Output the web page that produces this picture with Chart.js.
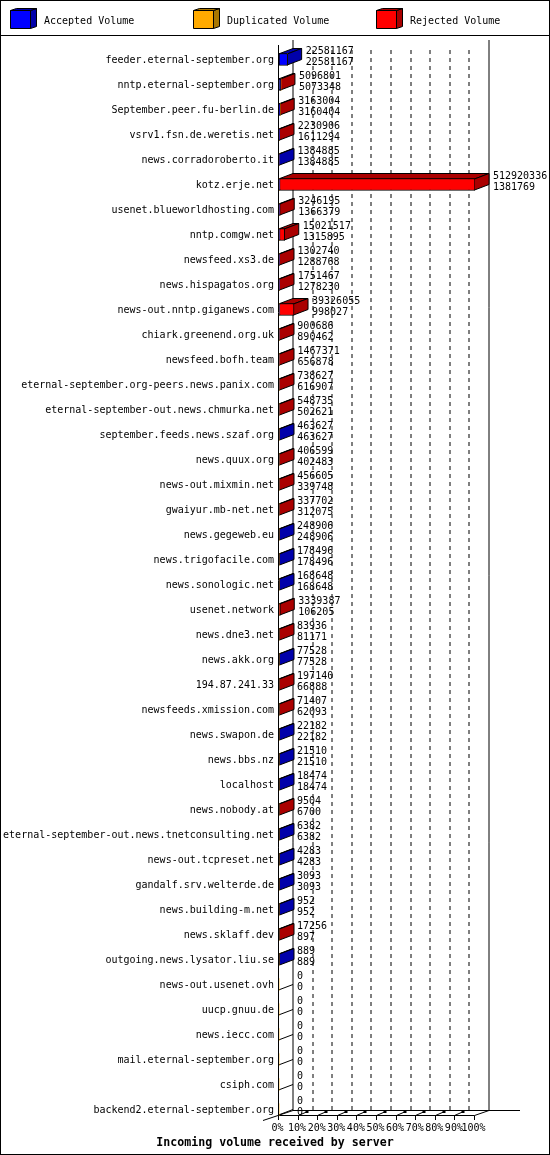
<!DOCTYPE html>
<html>
<head>
<meta charset="utf-8">
<title>Incoming volume received by server</title>
<script src="https://cdn.jsdelivr.net/npm/chart.js@4"></script>
<style>
  html, body { margin: 0; padding: 0; background: #fff; }
  canvas { display: block; }
</style>
</head>
<body>
<canvas id="chart" width="550" height="1155"></canvas>
<script>
// Servers, top to bottom.
const servers = [
  'feeder.eternal-september.org', 'nntp.eternal-september.org', 'September.peer.fu-berlin.de',
  'vsrv1.fsn.de.weretis.net', 'news.corradoroberto.it', 'kotz.erje.net',
  'usenet.blueworldhosting.com', 'nntp.comgw.net', 'newsfeed.xs3.de',
  'news.hispagatos.org', 'news-out.nntp.giganews.com', 'chiark.greenend.org.uk',
  'newsfeed.bofh.team', 'eternal-september.org-peers.news.panix.com',
  'eternal-september-out.news.chmurka.net', 'september.feeds.news.szaf.org', 'news.quux.org',
  'news-out.mixmin.net', 'gwaiyur.mb-net.net', 'news.gegeweb.eu',
  'news.trigofacile.com', 'news.sonologic.net', 'usenet.network',
  'news.dne3.net', 'news.akk.org', '194.87.241.33',
  'newsfeeds.xmission.com', 'news.swapon.de', 'news.bbs.nz',
  'localhost', 'news.nobody.at', 'eternal-september-out.news.tnetconsulting.net',
  'news-out.tcpreset.net', 'gandalf.srv.welterde.de', 'news.building-m.net',
  'news.sklaff.dev', 'outgoing.news.lysator.liu.se', 'news-out.usenet.ovh',
  'uucp.gnuu.de', 'news.iecc.com', 'mail.eternal-september.org',
  'csiph.com', 'backend2.eternal-september.org'
];
// Upper number beside each bar.
const offered = [
  22581167, 5096801, 3163004, 2230906, 1384885, 512920336,
  3246195, 15021517, 1302740, 1751467, 39326055, 900686,
  1467371, 738627, 548735, 463627, 406599, 456605,
  337702, 248906, 178496, 168648, 3339387, 83936,
  77528, 197140, 71407, 22182, 21510, 18474,
  9504, 6382, 4283, 3093, 952, 17256,
  889, 0, 0, 0, 0, 0, 0
];
// Lower number beside each bar.
const accepted = [
  22581167, 5073348, 3160404, 1611294, 1384885, 1381769,
  1366379, 1315895, 1288768, 1278230, 998027, 890462,
  656878, 616907, 502621, 463627, 402483, 339748,
  312075, 248906, 178496, 168648, 106205, 81171,
  77528, 66888, 62093, 22182, 21510, 18474,
  6700, 6382, 4283, 3093, 952, 897,
  889, 0, 0, 0, 0, 0, 0
];
const duplicated = servers.map(() => 0);
const rejected = offered.map((v, i) => v - accepted[i]);
const xTickLabels = ['0%', '10%', '20%', '30%', '40%', '50%', '60%', '70%', '80%', '90%', '100%'];

const MONO = '"DejaVu Sans Mono", monospace';
const DEPTH_X = 14.5, DEPTH_Y = 5.5, BAR_H = 11;

function line(ctx, pts, dash) {
  ctx.save();
  ctx.strokeStyle = '#000';
  ctx.lineWidth = 1;
  ctx.setLineDash(dash || []);
  ctx.beginPath();
  pts.forEach((p, i) => i ? ctx.lineTo(p[0], p[1]) : ctx.moveTo(p[0], p[1]));
  ctx.stroke();
  ctx.restore();
}

function poly(ctx, pts, fill) {
  ctx.fillStyle = fill;
  ctx.strokeStyle = '#000';
  ctx.lineWidth = 1;
  ctx.beginPath();
  pts.forEach((p, i) => i ? ctx.lineTo(p[0], p[1]) : ctx.moveTo(p[0], p[1]));
  ctx.closePath();
  ctx.fill();
  ctx.stroke();
}

// 枠, 凡例, 3D の壁と床.
const framePlugin = {
  id: 'frame',
  beforeDraw(chart) {
    const { ctx, scales: { x } } = chart;
    ctx.save();
    ctx.fillStyle = '#fff';
    ctx.fillRect(0, 0, 550, 1155);
    ctx.strokeStyle = '#000';
    ctx.lineWidth = 1;
    ctx.strokeRect(0.5, 0.5, 549, 1154);
    line(ctx, [[0, 35.5], [550, 35.5]]);

    // legend
    chart.data.datasets.forEach((ds, i) => {
      const lx = 10.5 + 183 * i;
      poly(ctx, [[lx + 20, 10.5], [lx + 26, 8.5], [lx + 26, 26.5], [lx + 20, 28.5]], ds.sideColor);
      poly(ctx, [[lx, 10.5], [lx + 6, 8.5], [lx + 26, 8.5], [lx + 20, 10.5]], ds.sideColor);
      poly(ctx, [[lx, 10.5], [lx + 20, 10.5], [lx + 20, 28.5], [lx, 28.5]], ds.backgroundColor);
      ctx.fillStyle = '#000';
      ctx.font = '10px ' + MONO;
      ctx.textAlign = 'left';
      ctx.textBaseline = 'middle';
      ctx.fillText(ds.label, lx + 33.5, 21);
    });

    const floorFront = 1115.5, floorBack = 1110.5, x0 = Math.floor(x.left) - 0.5;
    const x100 = Math.floor(x.right) - 0.5;

    // walls
    line(ctx, [[x0, 45], [x0, floorFront]]);
    line(ctx, [[x0 + DEPTH_X, 40], [x0 + DEPTH_X, floorBack]]);
    x.ticks.forEach((t, i) => {
      if (i === 0) return;
      const px = Math.round(x.getPixelForTick(i)) - 0.5 + DEPTH_X;
      if (i === x.ticks.length - 1) line(ctx, [[px, 40], [px, floorBack]]);
      else line(ctx, [[px, 50], [px, floorBack]], [4, 4]);
    });

    // floor
    line(ctx, [[263, 1120.5], [x0 + DEPTH_X, floorBack]]);
    line(ctx, [[x0, floorFront], [x100, floorFront], [x100 + DEPTH_X, floorBack]]);
    line(ctx, [[x0 + DEPTH_X, floorBack], [520, floorBack]]);
    x.ticks.forEach((t, i) => {
      const px = Math.round(x.getPixelForTick(i)) - 0.5;
      line(ctx, [[px, floorFront], [px, 1120]]);
      if (i > 0 && i < x.ticks.length - 1) {
        line(ctx, [[px, floorFront], [px + 8, 1112]]);
        ctx.fillStyle = '#000';
        ctx.fillRect(px + 7, 1111, 3, 2);
      }
    });
    ctx.restore();
  },
  // 棒の上面と側面.
  beforeDatasetsDraw(chart) {
    const { ctx, scales: { x, y } } = chart;
    ctx.save();
    servers.forEach((name, i) => {
      const cy = Math.round(y.getPixelForValue(i) - 0.5) + 0.5;
      const top = cy - BAR_H / 2, bot = cy + BAR_H / 2;
      const x0 = Math.floor(x.left) - 0.5;
      if (offered[i] === 0) {
        line(ctx, [[x0, bot], [x0 + DEPTH_X, bot - DEPTH_Y]]);
        return;
      }
      const xEnd = Math.max(x.getPixelForValue(offered[i]) - 0.5, x0 + 1);
      const side = rejected[i] > 0 ? chart.data.datasets[2].sideColor : chart.data.datasets[0].sideColor;
      poly(ctx, [[x0, top], [x0 + DEPTH_X, top - DEPTH_Y], [xEnd + DEPTH_X, top - DEPTH_Y], [xEnd, top]], side);
      poly(ctx, [[xEnd, top], [xEnd + DEPTH_X, top - DEPTH_Y], [xEnd + DEPTH_X, bot - DEPTH_Y], [xEnd, bot]], side);
    });
    ctx.restore();
  },
  // 数値ラベル.
  afterDatasetsDraw(chart) {
    const { ctx, scales: { x, y } } = chart;
    ctx.save();
    ctx.fillStyle = '#000';
    ctx.font = '10px ' + MONO;
    ctx.textAlign = 'left';
    ctx.textBaseline = 'middle';
    servers.forEach((name, i) => {
      const cy = y.getPixelForValue(i);
      const tx = x.getPixelForValue(offered[i]) + DEPTH_X + 3.5;
      ctx.fillText(String(offered[i]), tx, cy - 8.5);
      ctx.fillText(String(accepted[i]), tx, cy + 2.5);
    });
    ctx.restore();
  }
};

new Chart(document.getElementById('chart'), {
  type: 'bar',
  plugins: [framePlugin],
  data: {
    labels: servers,
    datasets: [
      { label: 'Accepted Volume', data: accepted, backgroundColor: '#0000ff', sideColor: '#0000aa',
        borderColor: '#000', borderWidth: 1, borderSkipped: false, barThickness: BAR_H + 1 },
      { label: 'Duplicated Volume', data: duplicated, backgroundColor: '#ffaa00', sideColor: '#aa7700',
        borderColor: '#000', borderWidth: 0, barThickness: BAR_H + 1 },
      { label: 'Rejected Volume', data: rejected, backgroundColor: '#ff0000', sideColor: '#aa0000',
        borderColor: '#000', borderWidth: 1, borderSkipped: false, barThickness: BAR_H + 1 }
    ]
  },
  options: {
    indexAxis: 'y',
    responsive: false,
    devicePixelRatio: 1,
    animation: false,
    layout: { padding: { top: 47, left: 0, right: 0, bottom: 0 } },
    plugins: {
      legend: { display: false },
      tooltip: { enabled: false },
      title: {
        display: true,
        position: 'bottom',
        text: 'Incoming volume received by server',
        color: '#000',
        font: { family: MONO, size: 11.6, weight: 'bold', lineHeight: 1.2 },
        padding: { top: 0, bottom: 5 }
      }
    },
    scales: {
      x: {
        stacked: true,
        min: 0,
        max: offered[5],
        grid: { display: false, drawTicks: false },
        border: { display: false },
        afterFit(s) { s.height = 14; },
        ticks: {
          stepSize: offered[5] / 10,
          autoSkip: false,
          maxRotation: 0,
          padding: 0,
          labelOffset: -1.5,
          color: '#000',
          font: { family: MONO, size: 10 },
          callback: (v, i) => xTickLabels[i]
        }
      },
      y: {
        stacked: true,
        grid: { display: false, drawTicks: false },
        border: { display: false },
        afterFit(s) { s.width = 279; },
        ticks: {
          autoSkip: false,
          padding: 5,
          labelOffset: 1,
          color: '#000',
          font: { family: MONO, size: 10 }
        }
      },
      // 右側の余白 (数値ラベル用).
      yRight: {
        type: 'linear',
        position: 'right',
        grid: { display: false, drawTicks: false },
        border: { display: false },
        ticks: { display: false },
        afterFit(s) { s.width = 75; }
      }
    }
  }
});
</script>
</body>
</html>
